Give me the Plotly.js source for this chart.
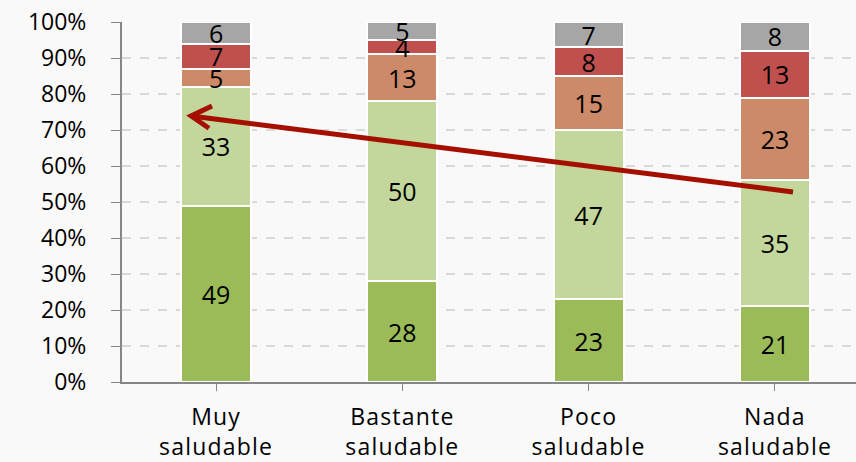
<!DOCTYPE html>
<html><head><meta charset="utf-8">
<script src="https://cdn.plot.ly/plotly-3.0.1.min.js"></script>
<style>
body{margin:0;background:#f9f9f9;}
.xtick text{letter-spacing:1.2px;}
</style>
</head><body>
<div id="chart" style="width:856px;height:462px;"></div>
<script>
var categories = ["Muy<br>saludable", "Bastante<br>saludable", "Poco<br>saludable", "Nada<br>saludable"];
var seriesNames = ["S1", "S2", "S3", "S4", "S5"];
var s1 = [49, 28, 23, 21];
var s2 = [33, 50, 47, 35];
var s3 = [5, 13, 15, 23];
var s4 = [7, 4, 8, 13];
var s5 = [6, 5, 7, 8];
var colors = ["#9BBB59", "#C3D69B", "#CD8A68", "#C0504D", "#A6A6A6"];
var yTicks = [0,10,20,30,40,50,60,70,80,90,100];

var allSeries = [s1, s2, s3, s4, s5];
var traces = allSeries.map(function(vals, i){
  return {
    type: "bar",
    name: seriesNames[i],
    x: [0,1,2,3],
    y: vals,
    text: vals.map(String),
    textposition: "inside",
    insidetextanchor: "middle",
    textangle: 0,
    constraintext: "none",
    cliponaxis: false,
    textfont: {family: "Open Sans, sans-serif", size: 25, color: "#000"},
    marker: {color: colors[i], line: {color: "#ffffff", width: 2}},
    hoverinfo: "none"
  };
});

// arrow geometry in data units
var arrowTail = [3.097, 52.8];
var arrowTip = [-0.134, 73.9];
var armUp = [-0.022, 76.7];
var armDown = [-0.038, 70.5];

var layout = {
  width: 856, height: 462,
  paper_bgcolor: "#f9f9f9",
  plot_bgcolor: "#f9f9f9",
  margin: {l: 122, r: 0, t: 22, b: 80},
  barmode: "stack",
  bargap: 0.624,
  showlegend: false,
  uniformtext: {mode: false},
  font: {family: "Open Sans, sans-serif", color: "#000"},
  xaxis: {
    range: [-0.505, 3.435],
    tickvals: [0,1,2,3],
    ticktext: categories,
    tickson: "boundaries",
    ticks: "outside",
    ticklen: 7,
    tickcolor: "#868686",
    showline: true,
    linecolor: "#868686",
    linewidth: 2,
    showgrid: false,
    zeroline: false,
    ticklabelstandoff: 6,
    tickfont: {size: 23, color: "#000"}
  },
  yaxis: {
    range: [0, 100],
    tickvals: yTicks,
    ticktext: yTicks.map(function(v){return v + "%";}),
    ticks: "outside",
    ticklen: 9,
    tickcolor: "#868686",
    showline: true,
    linecolor: "#868686",
    linewidth: 2,
    showgrid: true,
    gridcolor: "#d9d9d9",
    griddash: "dash",
    gridwidth: 1.5,
    zeroline: false,
    ticklabelstandoff: 20,
    tickfont: {size: 23, color: "#000"}
  },
  shapes: [
    {type: "line", xref: "x", yref: "y", x0: arrowTail[0], y0: arrowTail[1], x1: arrowTip[0], y1: arrowTip[1],
     line: {color: "#A50F00", width: 5}},
    {type: "path", xref: "x", yref: "y",
     path: "M " + armUp[0] + "," + armUp[1] + " L " + arrowTip[0] + "," + arrowTip[1] + " L " + armDown[0] + "," + armDown[1],
     line: {color: "#A50F00", width: 5}}
  ]
};

Plotly.newPlot("chart", traces, layout, {displayModeBar: false, staticPlot: true});
</script>
</body></html>
